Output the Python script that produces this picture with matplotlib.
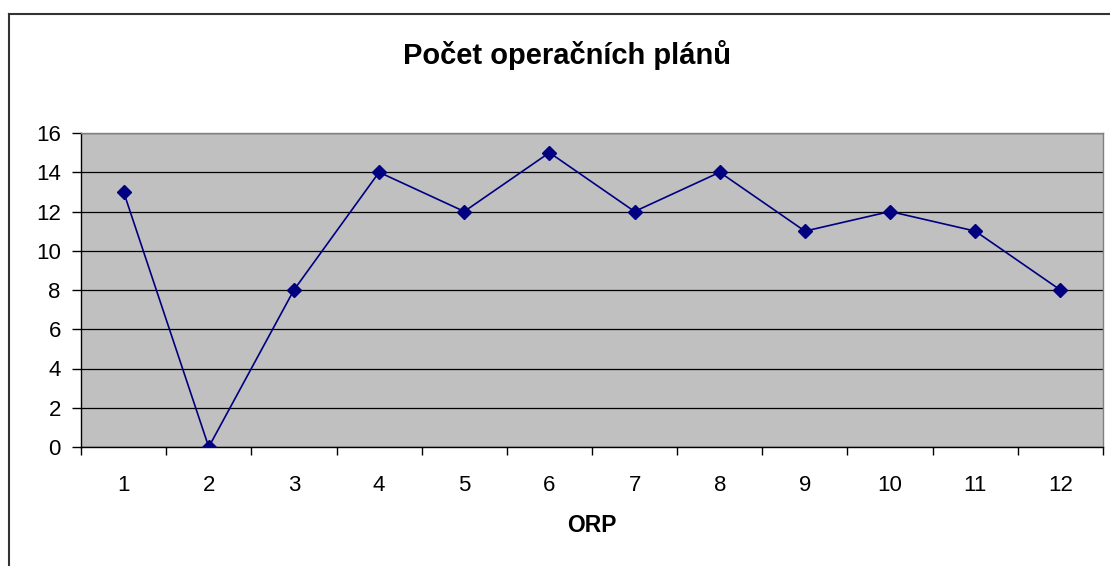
import matplotlib
matplotlib.use('Agg')
import matplotlib.pyplot as plt
from matplotlib.lines import Line2D

# data
orp = ['1', '2', '3', '4', '5', '6', '7', '8', '9', '10', '11', '12']
plany = [13, 0, 8, 14, 12, 15, 12, 14, 11, 12, 11, 8]

plt.rcParams['font.family'] = ['Liberation Sans', 'DejaVu Sans']

fig = plt.figure(figsize=(11.1, 5.66), dpi=100)
ax = fig.add_axes([81 / 1110, 1 - 447 / 566, 1022 / 1110, 314 / 566])
ax.set_facecolor('#C0C0C0')

x = list(range(1, len(orp) + 1))
ax.plot(x, plany, color='#000080', lw=1.2, marker='D', markersize=7.5,
        markerfacecolor='#000080', markeredgecolor='#000080', zorder=3)

ax.set_xlim(0.5, len(orp) + 0.5)
ax.set_ylim(0, 16)
ax.set_yticks(range(0, 17, 2))
ax.yaxis.grid(True, color='#000000', lw=0.9)
ax.set_axisbelow(True)

ax.set_xticks(x)
ax.set_xticklabels(orp)
ax.tick_params(axis='x', length=0, pad=20, labelsize=16)
ax.set_xticks([i + 0.5 for i in range(0, len(orp) + 1)], minor=True)
ax.tick_params(axis='x', which='minor', length=6, width=1, color='black', direction='out')
ax.tick_params(axis='y', length=6.5, width=1, color='black', labelsize=16, pad=8)

for s in ['top', 'right']:
    ax.spines[s].set_color('#808080')
    ax.spines[s].set_linewidth(1)
for s in ['left', 'bottom']:
    ax.spines[s].set_color('black')
    ax.spines[s].set_linewidth(1)

ax.set_xlabel('ORP', fontsize=16.5, fontweight='bold', labelpad=13)
fig.text(567 / 1110, 1 - 64 / 566, 'Počet operačních plánů', fontsize=21,
         fontweight='bold', ha='center', va='baseline')

# ramecek grafu (vlevo a nahore)
fig.add_artist(Line2D([9 / 1110, 9 / 1110], [0, 1 - 14 / 566], color='#333333', lw=1.5,
                      transform=fig.transFigure))
fig.add_artist(Line2D([9 / 1110, 1], [1 - 14 / 566, 1 - 14 / 566], color='#333333', lw=1.5,
                      transform=fig.transFigure))

fig.savefig('out.png', dpi=100)
